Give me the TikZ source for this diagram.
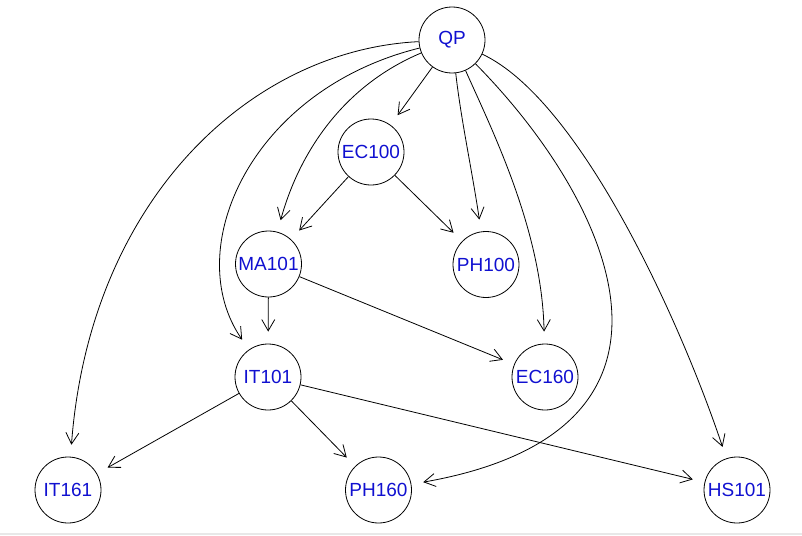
\documentclass[tikz,border=0pt]{standalone}
\usepackage{fontspec}
\setmainfont{Liberation Sans}
\usetikzlibrary{arrows.meta}
\definecolor{labelblue}{RGB}{16,16,208}
\begin{document}
\begin{tikzpicture}[x=1pt,y=-1pt,
  course/.style={circle,draw=black,line width=0.8pt,minimum size=66pt,inner sep=0pt,
    text=labelblue,font=\fontsize{19}{22}\selectfont},
  prereq/.style={draw=black,line width=0.8pt,-{Straight Barb[angle=60:13pt]},shorten >=12pt}]
\useasboundingbox (0,0) rectangle (802,535);
% thin grey strip along the bottom edge
\fill[gray!18] (0,533) rectangle (802,535);

% courses
\node[course] (QP)    at (452,40)    {QP};
\node[course] (EC100) at (371,152)   {EC100};
\node[course] (MA101) at (268.5,264) {MA101};
\node[course] (PH100) at (486,264.5) {PH100};
\node[course] (IT101) at (268,377)   {IT101};
\node[course] (EC160) at (545,377)   {EC160};
\node[course] (IT161) at (68,490)    {IT161};
\node[course] (PH160) at (378.5,490) {PH160};
\node[course] (HS101) at (737,490)   {HS101};

% curved prerequisites leaving QP
\draw[prereq] (QP) .. controls (250,50)  and (90,200)  .. (IT161);
\draw[prereq] (QP) .. controls (250,90)  and (180,250) .. (IT101);
\draw[prereq] (QP) .. controls (345,85)  and (300,150) .. (MA101);
\draw[prereq] (QP) .. controls (461,120) and (472,170) .. (PH100);
\draw[prereq] (QP) .. controls (492,130) and (542,230) .. (EC160);
\draw[prereq] (QP) .. controls (610,200) and (720,430) .. (PH160);
\draw[prereq] (QP) .. controls (580,100) and (680,320) .. (HS101);

% straight prerequisites
\draw[prereq] (QP) -- (EC100);
\draw[prereq] (EC100) -- (MA101);
\draw[prereq] (EC100) -- (PH100);
\draw[prereq] (MA101) -- (IT101);
\draw[prereq] (MA101) -- (EC160);
\draw[prereq] (IT101) -- (IT161);
\draw[prereq] (IT101) -- (PH160);
\draw[prereq] (IT101) -- (HS101);
\end{tikzpicture}
\end{document}
